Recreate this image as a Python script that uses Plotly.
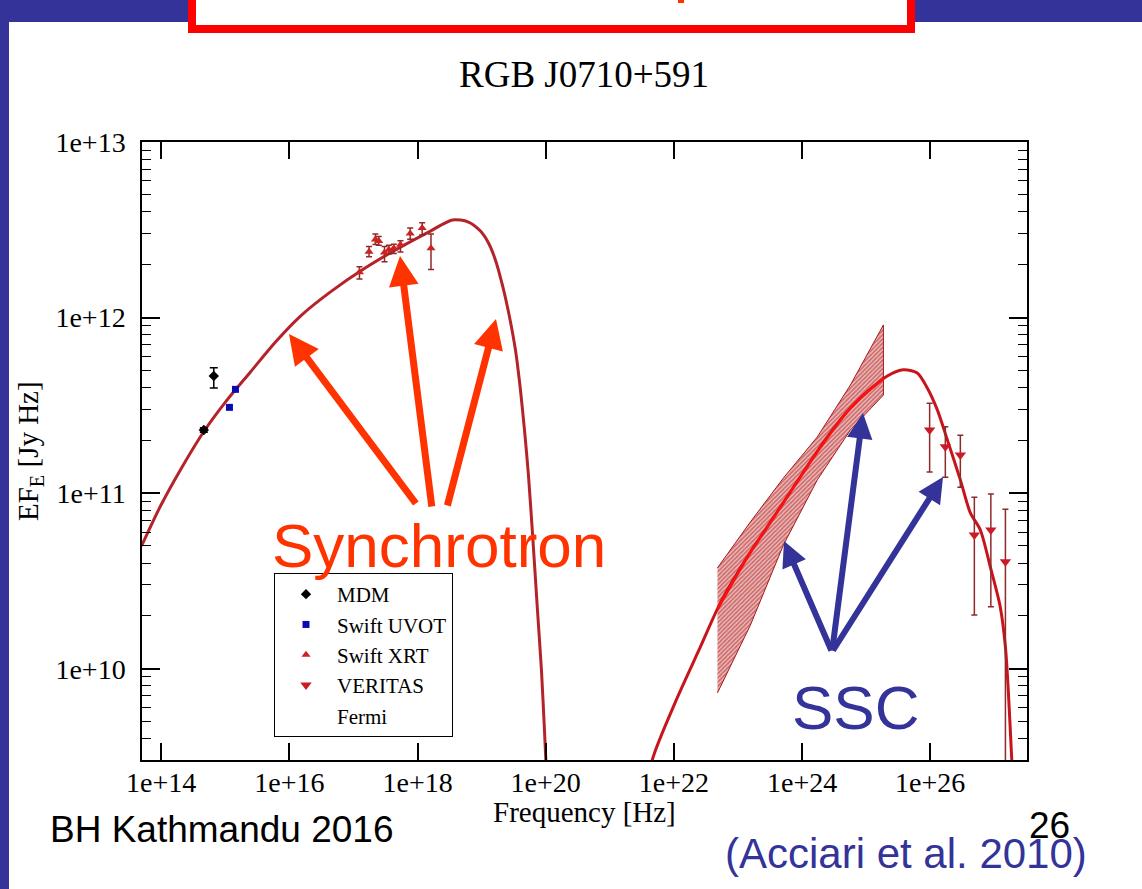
import plotly.graph_objects as go

# ---------------- data ----------------
# Synchrotron model curve
sync_nu = [4.93e13, 9.75e13, 2.00e14, 4.57e14, 1.01e15, 2.47e15, 6.07e15, 1.49e16, 4.38e16,
           1.54e17, 5.41e17, 1.59e18, 3.50e18, 6.22e18, 9.57e18, 1.28e19, 1.64e19, 2.11e19,
           2.62e19, 3.37e19, 4.03e19, 4.66e19, 5.37e19, 6.21e19, 7.43e19, 8.57e19, 9.55e19,
           1.03e20]
sync_flux = [5.00e10, 8.45e10, 1.36e11, 2.23e11, 3.31e11, 4.90e11, 7.26e11, 1.02e12, 1.40e12,
             1.92e12, 2.52e12, 3.11e12, 3.60e12, 3.50e12, 3.11e12, 2.66e12, 2.13e12, 1.53e12,
             1.08e12, 6.53e11, 3.87e11, 2.29e11, 1.27e11, 5.93e10, 2.16e10, 9.84e9, 4.48e9,
             2.48e9]

# SSC model curve
ssc_nu = [4.00e21, 4.61e21, 1.09e22, 2.59e22, 5.31e22, 1.40e23, 2.87e23, 9.40e23, 2.48e24,
          5.66e24, 1.16e25, 2.14e25, 3.80e25, 6.28e25, 8.99e25, 1.29e26, 1.85e26, 2.95e26,
          4.23e26, 6.05e26, 8.67e26, 1.24e27, 1.49e27, 1.65e27, 1.84e27, 1.98e27]
ssc_flux = [2.03e9, 3.03e9, 6.64e9, 1.33e10, 2.37e10, 4.34e10, 6.43e10, 1.24e11, 2.09e11,
            3.05e11, 3.92e11, 4.65e11, 5.04e11, 4.84e11, 3.97e11, 2.98e11, 2.01e11, 1.19e11,
            7.71e10, 6.17e10, 3.79e10, 2.24e10, 1.33e10, 7.57e9, 3.44e9, 2.04e9]

# MDM
mdm_nu = [4.62e14, 6.61e14]
mdm_flux = [2.29e11, 4.65e11]
mdm_hi = [2.36e11, 5.17e11]
mdm_lo = [2.22e11, 3.97e11]

# Swift UVOT
uvot_nu = [1.16e15, 1.44e15]
uvot_flux = [3.08e11, 3.90e11]

# Swift XRT
xrt_nu = [1.24e17, 1.75e17, 2.20e17, 2.48e17, 3.05e17, 3.56e17, 4.26e17, 5.41e17, 7.67e17,
          1.18e18, 1.62e18]
xrt_flux = [1.81e12, 2.37e12, 2.78e12, 2.73e12, 2.35e12, 2.43e12, 2.48e12, 2.60e12, 3.01e12,
            3.24e12, 2.48e12]
xrt_hi = [1.95e12, 2.54e12, 2.99e12, 2.90e12, 2.54e12, 2.58e12, 2.62e12, 2.74e12, 3.24e12,
          3.47e12, 2.99e12]
xrt_lo = [1.66e12, 2.22e12, 2.61e12, 2.58e12, 2.08e12, 2.30e12, 2.32e12, 2.36e12, 2.79e12,
          2.95e12, 1.88e12]

# VERITAS
ver_nu = [9.79e25, 1.72e26, 2.95e26, 4.88e26, 8.83e26, 1.49e27]
ver_flux = [2.29e11, 1.84e11, 1.65e11, 5.78e10, 6.17e10, 4.07e10]
ver_hi = [3.25e11, 2.39e11, 2.14e11, 9.48e10, 9.89e10, 8.09e10]
ver_lo = [1.32e11, 1.23e11, 1.08e11, 2.02e10, 2.25e10, 1.0e9]

# Fermi butterfly
fermi_nu = [4.78e22, 1.56e23, 5.12e23, 1.73e24, 5.68e24, 1.86e25]
fermi_hi = [3.75e10, 6.85e10, 1.22e11, 2.09e11, 4.13e11, 9.08e11]
fermi_lo = [7.28e9, 1.77e10, 5.07e10, 1.19e11, 2.29e11, 3.62e11]
fermi_fit = [2.17e10, 4.59e10, 8.81e10, 1.72e11, 3.05e11, 4.50e11]

x_tick_vals = [1e14, 1e16, 1e18, 1e20, 1e22, 1e24, 1e26]
x_tick_text = ["1e+14", "1e+16", "1e+18", "1e+20", "1e+22", "1e+24", "1e+26"]
y_tick_vals = [1e10, 1e11, 1e12, 1e13]
y_tick_text = ["1e+10", "1e+11", "1e+12", "1e+13"]

# ---------------- page geometry ----------------
W, H = 1142, 889
L, R, T, B = 142, 1027, 142, 760


def px(xp):
    return (xp - L) / (R - L)


def py(yp):
    return (B - yp) / (B - T)


SERIF = "Liberation Serif"
SANS = "Liberation Sans"
BLUE = "#333399"
ORANGE = "#ff3300"
ERR = "#8e2a2a"

fig = go.Figure()

# Fermi butterfly (hatched)
fig.add_trace(go.Scatter(
    x=fermi_nu + fermi_nu[::-1], y=fermi_hi + fermi_lo[::-1],
    mode="lines", fill="toself", showlegend=False,
    line=dict(color="#a81818", width=1),
    fillcolor="rgba(255,255,255,0)",
    fillpattern=dict(shape="/", fgcolor="#a81515", bgcolor="rgba(240,190,190,0.9)",
                     size=3, solidity=0.6),
    hoverinfo="skip"))

# Model curves
fig.add_trace(go.Scatter(x=sync_nu, y=sync_flux, mode="lines", showlegend=False,
                         line=dict(color="#b5232a", width=3, shape="spline", smoothing=0.8)))
fig.add_trace(go.Scatter(x=ssc_nu, y=ssc_flux, mode="lines", showlegend=False,
                         line=dict(color="#c8141c", width=3, shape="spline", smoothing=0.8)))
fig.add_trace(go.Scatter(x=fermi_nu, y=fermi_fit, mode="lines", showlegend=False,
                         line=dict(color="#ff1010", width=2.5, shape="spline", smoothing=0.8)))

# Data points
fig.add_trace(go.Scatter(
    x=mdm_nu, y=mdm_flux, mode="markers", name="MDM",
    marker=dict(symbol="diamond", size=8, color="black"),
    error_y=dict(type="data", symmetric=False,
                 array=[h - f for h, f in zip(mdm_hi, mdm_flux)],
                 arrayminus=[f - l for f, l in zip(mdm_flux, mdm_lo)],
                 color="black", thickness=1.5, width=4)))
fig.add_trace(go.Scatter(
    x=uvot_nu, y=uvot_flux, mode="markers", name="Swift UVOT",
    marker=dict(symbol="square", size=7, color="#0a0ab4")))
fig.add_trace(go.Scatter(
    x=xrt_nu, y=xrt_flux, mode="markers", name="Swift XRT",
    marker=dict(symbol="triangle-up", size=8, color="#cc2222"),
    error_y=dict(type="data", symmetric=False,
                 array=[h - f for h, f in zip(xrt_hi, xrt_flux)],
                 arrayminus=[f - l for f, l in zip(xrt_flux, xrt_lo)],
                 color=ERR, thickness=1.5, width=3)))
fig.add_trace(go.Scatter(
    x=ver_nu, y=ver_flux, mode="markers", name="VERITAS",
    marker=dict(symbol="triangle-down", size=10, color="#cc1a26"),
    error_y=dict(type="data", symmetric=False,
                 array=[h - f for h, f in zip(ver_hi, ver_flux)],
                 arrayminus=[f - l for f, l in zip(ver_flux, ver_lo)],
                 color=ERR, thickness=1.5, width=3)))
fig.add_trace(go.Scatter(
    x=[None], y=[None], mode="markers", name="Fermi",
    marker=dict(color="rgba(0,0,0,0)", size=8)))

minor_y = [m * 10 ** d for d in range(9, 13) for m in range(2, 10)]

fig.update_xaxes(
    type="log", range=[13.70, 27.51], tickmode="array", tickvals=x_tick_vals,
    ticktext=x_tick_text, ticks="inside", ticklen=17, tickwidth=1.5, tickcolor="black",
    showline=True, linecolor="black", linewidth=1.5, mirror="allticks", showgrid=False,
    zeroline=False, tickfont=dict(family=SERIF, size=28, color="black"),
    ticklabelstandoff=-3)
fig.update_yaxes(
    type="log", range=[9.48, 13.0], tickmode="array", tickvals=y_tick_vals,
    ticktext=y_tick_text, ticks="inside", ticklen=18, tickwidth=1.5, tickcolor="black",
    showline=True, linecolor="black", linewidth=1.5, mirror="allticks", showgrid=False,
    zeroline=False, tickfont=dict(family=SERIF, size=28, color="black"),
    ticklabelstandoff=9,
    minor=dict(tickmode="array", tickvals=minor_y, ticks="inside", ticklen=9,
               tickwidth=1.2, tickcolor="black", showgrid=False))

# ---------------- slide decoration ----------------
shapes = [
    dict(type="rect", xref="paper", yref="paper", x0=px(0), x1=px(W), y0=py(22), y1=py(0),
         fillcolor=BLUE, line=dict(width=0), layer="below"),
    dict(type="rect", xref="paper", yref="paper", x0=px(0), x1=px(9), y0=py(H), y1=py(0),
         fillcolor=BLUE, line=dict(width=0), layer="below"),
    dict(type="rect", xref="paper", yref="paper", x0=px(192), x1=px(911), y0=py(29),
         y1=py(-10), fillcolor="white", line=dict(color="#ff0000", width=8), layer="below"),
    dict(type="rect", xref="paper", yref="paper", x0=px(678), x1=px(684), y0=py(3),
         y1=py(0), fillcolor=ORANGE, line=dict(width=0), layer="below"),
]


def label(text, x, y, size, color, family, xanchor="center", **kw):
    return dict(text=text, x=px(x), y=py(y), xref="paper", yref="paper",
                xanchor=xanchor, yanchor="middle", showarrow=False,
                font=dict(family=family, size=size, color=color), **kw)


annotations = [
    label("RGB J0710+591", 584, 75, 37, "black", SERIF),
    label("Frequency [Hz]", 584.5, 812, 29, "black", SERIF),
    label("EF<sub>E</sub> [Jy Hz]", 30, 451, 29, "black", SERIF, textangle=-90),
]

orange_arrows = [((289, 334), (417, 505)), ((400, 256), (432, 508)), ((496, 319), (447, 507))]
blue_arrows = [((784, 541), (832, 652)), ((863, 413), (832, 652)), ((943, 477), (832, 652))]
for (hx, hy), (tx, ty) in orange_arrows:
    annotations.append(dict(text="", x=px(hx), y=py(hy), xref="paper", yref="paper",
                            ax=tx - hx, ay=ty - hy, showarrow=True, arrowhead=2,
                            arrowsize=0.85, arrowwidth=7, arrowcolor=ORANGE, standoff=0))
for (hx, hy), (tx, ty) in blue_arrows:
    annotations.append(dict(text="", x=px(hx), y=py(hy), xref="paper", yref="paper",
                            ax=tx - hx, ay=ty - hy, showarrow=True, arrowhead=2,
                            arrowsize=0.85, arrowwidth=6, arrowcolor=BLUE, standoff=0))

annotations += [
    label("Synchrotron", 439, 545, 62, ORANGE, SANS),
    label("SSC", 855, 707, 62, BLUE, SANS),
    label("BH Kathmandu 2016", 48, 829, 37, "black", SANS, xanchor="left"),
    label("(Acciari et al. 2010)", 723, 853, 42, BLUE, SANS, xanchor="left"),
    label("26", 1027, 825, 37, "black", SANS, xanchor="left"),
]

fig.update_layout(
    width=W, height=H, autosize=False,
    margin=dict(l=L, r=W - R, t=T, b=H - B, pad=0),
    paper_bgcolor="white", plot_bgcolor="white",
    shapes=shapes, annotations=annotations,
    legend=dict(x=px(274), y=py(573), xanchor="left", yanchor="top",
                bgcolor="white", bordercolor="black", borderwidth=1,
                font=dict(family=SERIF, size=21, color="black"),
                itemwidth=52, traceorder="normal"),
)

fig.write_html("out.html")
